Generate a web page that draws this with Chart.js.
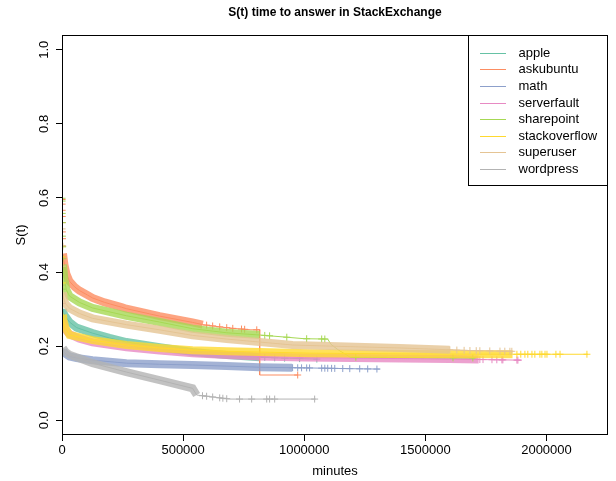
<!DOCTYPE html>
<html>
<head>
<meta charset="utf-8">
<script src="https://cdn.jsdelivr.net/npm/chart.js@4.4.1/dist/chart.umd.min.js"></script>
<style>
  html, body { margin: 0; padding: 0; background: #fff; }
  #wrap { width: 616px; height: 481px; }
</style>
</head>
<body>
<div id="wrap"><canvas id="survChart" width="616" height="481"></canvas></div>
<script>
// sites, in legend order
const sites = ["apple", "askubuntu", "math", "serverfault", "sharepoint", "stackoverflow", "superuser", "wordpress"];
const siteColors = ["#66C2A5", "#FC8D62", "#8DA0CB", "#E78AC3", "#A6D854", "#FFD92F", "#E5C494", "#B3B3B3"];

// Kaplan-Meier curves: time in minutes, S(t)
// (a repeated time is a visible drop)
const appleTime = [0, 400, 2000, 6000, 14000, 31000, 60000, 126000, 196000, 266000, 403000, 539000, 680000, 816000, 940000, 1056000];
const appleSurv = [1, 0.45, 0.31, 0.29, 0.28, 0.265, 0.25, 0.235, 0.222, 0.211, 0.197, 0.184, 0.176, 0.170, 0.167, 0.165];

const askubuntuTime = [0, 300, 1500, 4000, 10000, 18000, 31000, 52000, 72000, 105000, 126000, 176000, 246000, 266000, 362000, 403000, 539000, 581000, 650000, 704000, 780000, 816000, 816000, 973000];
const askubuntuSurv = [1, 0.6, 0.5, 0.45, 0.42, 0.395, 0.375, 0.36, 0.35, 0.338, 0.33, 0.318, 0.305, 0.301, 0.287, 0.281, 0.264, 0.258, 0.252, 0.248, 0.244, 0.244, 0.122, 0.122];

const mathTime = [0, 200, 1000, 6000, 18000, 31000, 60000, 126000, 266000, 403000, 539000, 680000, 816000, 1022000, 1200000, 1312000];
const mathSurv = [1, 0.25, 0.2, 0.185, 0.178, 0.172, 0.168, 0.162, 0.154, 0.151, 0.149, 0.146, 0.143, 0.141, 0.139, 0.138];

const serverfaultTime = [0, 300, 2000, 6000, 14000, 31000, 72000, 126000, 266000, 403000, 539000, 680000, 816000, 1000000, 1300000, 1600000, 1898000];
const serverfaultSurv = [1, 0.4, 0.28, 0.26, 0.245, 0.232, 0.22, 0.21, 0.197, 0.188, 0.181, 0.176, 0.172, 0.169, 0.167, 0.165, 0.162];

const sharepointTime = [0, 300, 1500, 4000, 10000, 18000, 31000, 72000, 126000, 266000, 403000, 539000, 680000, 816000, 928000, 1000000, 1097000, 1110000, 1140000, 1190000, 1705000];
const sharepointSurv = [1, 0.6, 0.5, 0.42, 0.38, 0.352, 0.335, 0.318, 0.303, 0.282, 0.265, 0.247, 0.236, 0.230, 0.224, 0.22, 0.219, 0.205, 0.19, 0.17, 0.168];

const stackoverflowTime = [0, 300, 2000, 6000, 14000, 31000, 126000, 266000, 403000, 539000, 680000, 816000, 1022000, 1400000, 1860000, 2171000];
const stackoverflowSurv = [1, 0.5, 0.3, 0.27, 0.25, 0.23, 0.216, 0.203, 0.195, 0.189, 0.186, 0.184, 0.181, 0.179, 0.178, 0.178];

const superuserTime = [0, 300, 2000, 6000, 14000, 31000, 72000, 126000, 266000, 403000, 539000, 680000, 816000, 952000, 1105000, 1395000, 1684000, 1857000];
const superuserSurv = [1, 0.55, 0.36, 0.33, 0.315, 0.302, 0.288, 0.275, 0.258, 0.244, 0.229, 0.219, 0.211, 0.203, 0.2, 0.195, 0.188, 0.186];

const wordpressTime = [0, 200, 1000, 4000, 14000, 31000, 60000, 126000, 266000, 403000, 539000, 556000, 692000, 1047000];
const wordpressSurv = [1, 0.3, 0.21, 0.195, 0.185, 0.177, 0.17, 0.154, 0.13, 0.108, 0.086, 0.068, 0.057, 0.057];

// stretch of each curve where the censor marks pile up into a solid band
const bandRanges = [[4000, 816000], [4000, 581000], [4000, 950000], [4000, 1720000], [4000, 816000], [4000, 1860000], [4000, 1600000], [4000, 556000]];

// single censor marks (+): early ones on the first drop, late ones past the band
const appleCens = [500, 900, 1500, 837000, 878000, 919000, 981000, 1052000];
const askubuntuCens = [350, 500, 700, 900, 1100, 1400, 2000, 3000, 597000, 622000, 651000, 680000, 705000, 741000, 754000, 804000, 973000];
const mathCens = [952000, 973000, 989000, 1010000, 1022000, 1072000, 1085000, 1097000, 1113000, 1126000, 1159000, 1188000, 1229000, 1262000, 1300000];
const serverfaultCens = [400, 800, 1500, 1725000, 1738000, 1775000, 1795000, 1816000, 1820000, 1878000, 1882000];
const sharepointCens = [310, 400, 800, 1100, 1600, 2500, 3500, 837000, 857000, 928000, 1010000, 1072000, 1085000, 1213000, 1614000, 1696000];
const stackoverflowCens = [800, 1400, 1878000, 1894000, 1911000, 1923000, 1940000, 1952000, 1973000, 1981000, 1994000, 2002000, 2039000, 2056000, 2167000];
const superuserCens = [600, 1000, 1500, 1601000, 1630000, 1660000, 1684000, 1710000, 1725000, 1766000, 1808000, 1828000, 1849000, 1857000];
const wordpressCens = [580000, 597000, 622000, 651000, 664000, 680000, 733000, 783000, 845000, 857000, 878000, 1043000];

const xTicks = [0, 500000, 1000000, 1500000, 2000000];
const yTicks = [0, 0.2, 0.4, 0.6, 0.8, 1.0];

const curveTimes = [appleTime, askubuntuTime, mathTime, serverfaultTime, sharepointTime, stackoverflowTime, superuserTime, wordpressTime];
const curveSurv = [appleSurv, askubuntuSurv, mathSurv, serverfaultSurv, sharepointSurv, stackoverflowSurv, superuserSurv, wordpressSurv];
const censTimes = [appleCens, askubuntuCens, mathCens, serverfaultCens, sharepointCens, stackoverflowCens, superuserCens, wordpressCens];

const FONT = "'Liberation Sans', Arial, Helvetica, sans-serif";

// where curve i sits at time t (so a mark lands on the drawn line)
function survAt(i, t) {
  const times = curveTimes[i];
  const surv = curveSurv[i];
  for (let k = times.length - 1; k > 0; k--) {
    if (t >= times[k - 1] && t <= times[k]) {
      if (times[k] === times[k - 1]) return surv[k];
      const f = (t - times[k - 1]) / (times[k] - times[k - 1]);
      return surv[k - 1] + f * (surv[k] - surv[k - 1]);
    }
  }
  return surv[surv.length - 1];
}

function withAlpha(hex, a) {
  const n = parseInt(hex.slice(1), 16);
  return `rgba(${(n >> 16) & 255}, ${(n >> 8) & 255}, ${n & 255}, ${a})`;
}

const datasets = [];
sites.forEach((name, i) => {
  const pts = curveTimes[i].map((t, k) => ({ x: t, y: curveSurv[i][k] }));
  const [b0, b1] = bandRanges[i];
  const band = [{ x: b0, y: survAt(i, b0) }]
    .concat(pts.filter((p) => p.x > b0 && p.x < b1))
    .concat([{ x: b1, y: survAt(i, b1) }]);
  const marks = censTimes[i].map((t) => ({ x: t, y: survAt(i, t) }));
  const order = sites.length - i; // later sites drawn on top, like R

  datasets.push({
    label: name + " band",
    data: band,
    showLine: true,
    borderColor: withAlpha(siteColors[i], 0.8),
    borderWidth: 8,
    borderCapStyle: "butt",
    pointRadius: 0,
    order: order,
  });
  datasets.push({
    label: name,
    data: pts,
    showLine: true,
    borderColor: siteColors[i],
    borderWidth: 1,
    pointRadius: 0,
    order: order,
  });
  datasets.push({
    label: name + " censored",
    data: marks,
    showLine: false,
    pointStyle: "cross",
    pointRadius: 3.5,
    pointBorderWidth: 1,
    pointBorderColor: siteColors[i],
    order: order,
  });
});

// title, frame and R-style legend
const rDecor = {
  id: "rDecor",
  afterDatasetsDraw(chart) {
    const { ctx, chartArea } = chart;
    const { left, right, top, bottom } = chartArea;
    ctx.save();
    ctx.strokeStyle = "#000";
    ctx.lineWidth = 1;
    ctx.strokeRect(left + 0.5, top + 0.5, right - left - 1, bottom - top - 1);

    // legend
    const boxL = right - 140;
    const boxW = 140;
    const boxH = 150;
    ctx.fillStyle = "#fff";
    ctx.fillRect(boxL + 0.5, top + 0.5, boxW - 1, boxH);
    ctx.strokeRect(boxL + 0.5, top + 0.5, boxW - 1, boxH);
    ctx.font = "13px " + FONT;
    ctx.textBaseline = "middle";
    ctx.textAlign = "left";
    sites.forEach((name, i) => {
      const y = Math.round(top + 17.7 + i * 16.6) + 0.5;
      ctx.strokeStyle = siteColors[i];
      ctx.lineWidth = 1;
      ctx.beginPath();
      ctx.moveTo(boxL + 12, y);
      ctx.lineTo(boxL + 38, y);
      ctx.stroke();
      ctx.fillStyle = "#000";
      ctx.fillText(name, boxL + 50.5, y);
    });

    // main title
    ctx.font = "bold 12px " + FONT;
    ctx.textAlign = "center";
    ctx.fillStyle = "#000";
    ctx.fillText("S(t) time to answer in StackExchange", (left + right) / 2, 13);
    ctx.restore();
  },
};

const ctx = document.getElementById("survChart").getContext("2d");
const chart = new Chart(ctx, {
  type: "scatter",
  data: { datasets: datasets },
  options: {
    responsive: false,
    animation: false,
    devicePixelRatio: 1,
    layout: { padding: { left: 0, right: 8, top: 35, bottom: 0 } },
    plugins: {
      legend: { display: false },
      tooltip: { enabled: false },
      title: { display: false },
    },
    scales: {
      x: {
        type: "linear",
        min: 0,
        max: 2254000,
        afterFit: (scale) => { scale.height = 46; },
        afterBuildTicks: (scale) => { scale.ticks = xTicks.map((v) => ({ value: v })); },
        grid: { display: true, drawOnChartArea: false, drawTicks: true, tickLength: 6, color: "#000" },
        border: { display: false },
        ticks: {
          color: "#000",
          font: { family: FONT, size: 13 },
          padding: 2,
          maxRotation: 0,
          autoSkip: false,
          callback: (v) => String(v),
        },
        title: {
          display: true,
          text: "minutes",
          color: "#000",
          font: { family: FONT, size: 13 },
          padding: { top: 0, bottom: 2 },
        },
      },
      y: {
        type: "linear",
        min: -0.04,
        max: 1.04,
        afterFit: (scale) => { scale.width = 62; },
        afterBuildTicks: (scale) => { scale.ticks = yTicks.map((v) => ({ value: v })); },
        grid: { display: true, drawOnChartArea: false, drawTicks: true, tickLength: 6, color: "#000" },
        border: { display: false },
        ticks: {
          color: "#000",
          font: { family: FONT, size: 13 },
          padding: 3,
          minRotation: 90,
          maxRotation: 90,
          crossAlign: "center",
          autoSkip: false,
          callback: (v) => v.toFixed(1),
        },
        title: {
          display: true,
          text: "S(t)",
          color: "#000",
          font: { family: FONT, size: 13 },
          padding: { top: 14, bottom: 0 },
        },
      },
    },
  },
  plugins: [rDecor],
});
</script>
</body>
</html>
